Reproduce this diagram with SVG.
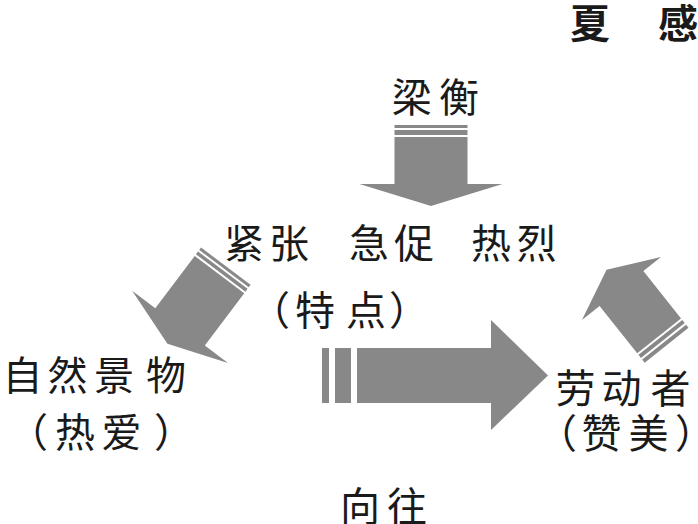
<svg xmlns="http://www.w3.org/2000/svg" width="698" height="524" viewBox="0 0 698 524">
<style>
.t{font-family:"Noto Sans CJK SC","Noto Sans CJK JP",sans-serif;font-size:40px;fill:#1a1a1a}
.b{font-family:"Noto Sans CJK SC",sans-serif;font-size:40px;font-weight:bold;fill:#1a1a1a}
.a{fill:#888888}
</style>
<rect width="698" height="524" fill="#ffffff"/>
<g id="title"><text class="b" x="570 658" y="38">夏感</text></g>
<g id="author"><text class="t" x="391.7 439" y="112">梁衡</text></g>
<g id="features">
<text class="t" x="224 269 349 394 471 516.5" y="258">紧张急促热烈</text>
<text class="t" x="250 295 346 389" y="325">（特点）</text>
</g>
<g id="nature">
<text class="t" x="2.5 47.5 94 146" y="390">自然景物</text>
<text class="t" x="8 55 101.5 154" y="447">（热爱）</text>
</g>
<g id="labor">
<text class="t" x="555.5 601.5 650.5" y="403">劳动者</text>
<text class="t" x="537 581.5 628.5 675" y="448">（赞美）</text>
</g>
<g id="yearn"><text class="t" x="340 387" y="521">向往</text></g>
<g id="connectors">
<g transform="translate(431,125) rotate(90)">
<rect class="a" x="0" y="-36.5" width="3" height="73"/>
<rect class="a" x="5" y="-36.5" width="5" height="73"/>
<path class="a" d="M12,-36.5 L59,-36.5 L59,-71.5 L81,0 L59,71.5 L59,36.5 L12,36.5 Z"/>
</g>
<g transform="translate(225.8,266.2) rotate(127)">
<rect class="a" x="0" y="-31" width="3" height="62"/>
<rect class="a" x="5" y="-31" width="3.5" height="62"/>
<path class="a" d="M10.5,-31 L76,-31 L76,-60 L97,0 L76,60 L76,31 L10.5,31 Z"/>
</g>
<g transform="translate(666.6,345.2) rotate(-128.5)">
<rect class="a" x="0" y="-28" width="4" height="56"/>
<rect class="a" x="6" y="-28" width="4" height="56"/>
<path class="a" d="M12,-28 L72.5,-28 L72.5,-50.5 L96.5,0 L72.5,50.5 L72.5,28 L12,28 Z"/>
</g>
<g>
<rect class="a" x="322" y="348" width="7" height="55"/>
<rect class="a" x="335" y="348" width="16" height="55"/>
<path class="a" d="M357,348 L491,348 L491,320 L548,375.5 L491,430 L491,403 L357,403 Z"/>
</g>
</g>
</svg>
